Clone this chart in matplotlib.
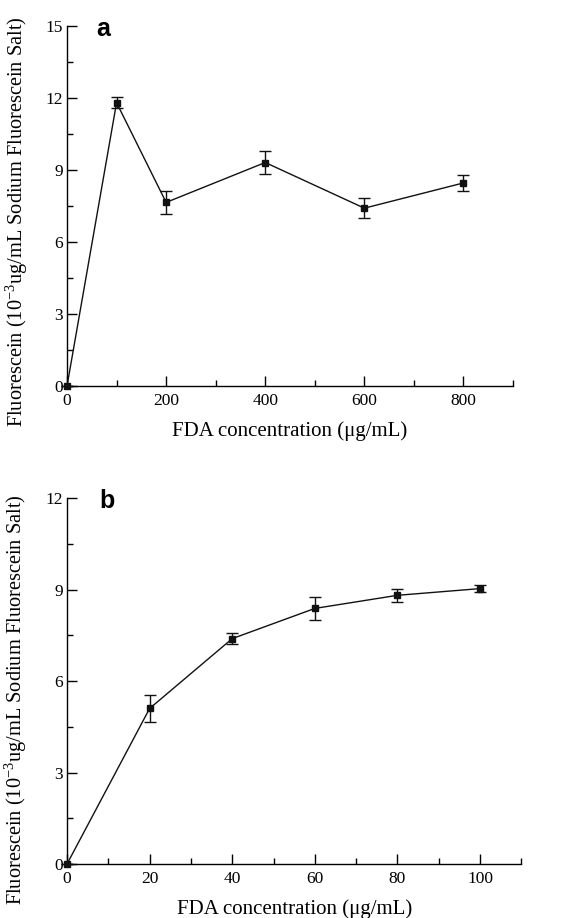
import matplotlib
matplotlib.use("Agg")
import matplotlib.pyplot as plt
from matplotlib.ticker import MultipleLocator

# Panel a data
xa = [0, 100, 200, 400, 600, 800]
ya = [0, 11.79, 7.64, 9.30, 7.40, 8.45]
ea = [0, 0.22, 0.47, 0.46, 0.42, 0.32]

# Panel b data
xb = [0, 20, 40, 60, 80, 100]
yb = [0, 5.10, 7.39, 8.38, 8.81, 9.03]
eb = [0, 0.45, 0.17, 0.38, 0.21, 0.12]

xlabel = "FDA concentration (\u03bcg/mL)"
ylabel = "Fluorescein (10$^{-3}$ug/mL Sodium Fluorescein Salt)"

plt.rcParams['font.family'] = ['Liberation Serif', 'DejaVu Serif']
plt.rcParams['mathtext.fontset'] = 'custom'
plt.rcParams['mathtext.rm'] = 'Liberation Serif'
plt.rcParams['mathtext.it'] = 'Liberation Serif:italic'
plt.rcParams['mathtext.bf'] = 'Liberation Serif:bold'

fig = plt.figure(figsize=(5.66, 9.18), dpi=100)
axa = fig.add_axes([0.1184, 0.5795, 0.788, 0.3927])
axb = fig.add_axes([0.1184, 0.0588, 0.8027, 0.3987])

def style(ax, xmaj, xmin, ymaj, ymin, xlim, ylim):
    for s in ['top', 'right']:
        ax.spines[s].set_visible(False)
    for s in ['left', 'bottom']:
        ax.spines[s].set_linewidth(1.0)
    ax.set_xlim(*xlim)
    ax.set_ylim(*ylim)
    ax.xaxis.set_major_locator(MultipleLocator(xmaj))
    ax.xaxis.set_minor_locator(MultipleLocator(xmin))
    ax.yaxis.set_major_locator(MultipleLocator(ymaj))
    ax.yaxis.set_minor_locator(MultipleLocator(ymin))
    ax.tick_params(which='both', direction='in', width=1.0, labelsize=12.5, pad=3)
    ax.tick_params(axis='x', which='both', pad=5)
    ax.tick_params(which='major', length=7)
    ax.tick_params(which='minor', length=4)
    ax.set_xlabel(xlabel, fontsize=15, labelpad=9)
    ax.set_ylabel(ylabel, fontsize=14.7)

for ax, x, y, e in [(axa, xa, ya, ea), (axb, xb, yb, eb)]:
    ax.errorbar(x, y, yerr=e, color='#111111', lw=1.0, marker='s', ms=4,
                capsize=4, elinewidth=1.0, capthick=1.0, clip_on=False, zorder=3)

style(axa, 200, 100, 3, 1.5, (0, 900), (0, 15))
style(axb, 20, 10, 3, 1.5, (0, 110), (0, 12))

axa.yaxis.set_label_coords(-0.084, 0.457)
axb.yaxis.set_label_coords(-0.083, 0.45)

axa.text(0.081, 0.99, 'a', transform=axa.transAxes, fontsize=18, fontweight='bold',
         family='Liberation Sans', va='center', ha='center')
axb.text(0.088, 0.992, 'b', transform=axb.transAxes, fontsize=18, fontweight='bold',
         family='Liberation Sans', va='center', ha='center')

fig.savefig('out.png', dpi=100)
